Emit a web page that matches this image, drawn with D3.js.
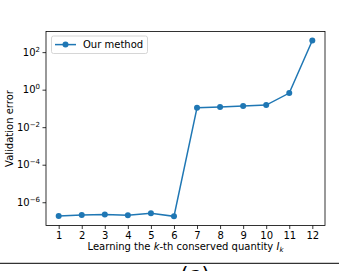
<!DOCTYPE html>
<html><head><meta charset="utf-8">
<script src="https://cdn.jsdelivr.net/npm/d3@7"></script>
<style>body{margin:0;background:#fff}svg{display:block}text{font-family:"DejaVu Sans",sans-serif;fill:#000}</style>
</head><body>
<svg id="c" width="364" height="271"></svg>
<script>
const categories = [1,2,3,4,5,6,7,8,9,10,11,12];
const errors = [1.85e-7,2.1e-7,2.2e-7,2.0e-7,2.6e-7,1.78e-7,0.11,0.119,0.135,0.15,0.66,420];
const yTicks = [-6,-4,-2,0,2];
const seriesName = "Our method";
const xLabel = "Learning the ";
const yLabel = "Validation error";

const svg = d3.select("#c");
const L=46,R=325,T=31.5,B=225.5;
const x = d3.scaleLinear().domain([0.45,12.55]).range([L,R]);
const y = d3.scaleLog().domain([Math.pow(10,-7.24),Math.pow(10,3.1)]).range([B,T]);
const color="#1f77b4";

// x axis
const xa = svg.append("g").attr("transform",`translate(0,${B})`)
  .call(d3.axisBottom(x).tickValues(categories).tickSize(3.5).tickPadding(2.5).tickFormat(d3.format("d")));
xa.select(".domain").remove();
xa.selectAll("text").attr("font-size",10).attr("font-family","DejaVu Sans");
xa.selectAll("line").attr("stroke","#000").attr("stroke-width",0.8);

// y axis
const ya = svg.append("g").attr("transform",`translate(${L},0)`)
  .call(d3.axisLeft(y).tickValues(yTicks.map(e=>Math.pow(10,e))).tickSize(3.5).tickPadding(2.5).tickFormat(()=>""));
ya.select(".domain").remove();
ya.selectAll("line").attr("stroke","#000").attr("stroke-width",0.8);
ya.selectAll(".tick text").each(function(d){
  const t=d3.select(this).attr("font-size",10).attr("font-family","DejaVu Sans");
  const e=Math.round(Math.log10(d));
  t.append("tspan").text("10");
  t.append("tspan").attr("dy",-4).attr("font-size",7).text(e<0?"\u2212"+(-e):String(e));
});

// frame
svg.append("rect").attr("x",L).attr("y",T).attr("width",R-L).attr("height",B-T)
  .attr("fill","none").attr("stroke","#000").attr("stroke-width",0.8);

// line + markers
const data = categories.map((c,i)=>({c,v:errors[i]}));
svg.append("path").datum(data).attr("fill","none").attr("stroke",color).attr("stroke-width",1.5)
  .attr("d",d3.line().x(d=>x(d.c)).y(d=>y(d.v)));
svg.selectAll("circle.pt").data(data).join("circle").attr("class","pt")
  .attr("cx",d=>x(d.c)).attr("cy",d=>y(d.v)).attr("r",3).attr("fill",color);

// legend
const lg = svg.append("g");
lg.append("rect").attr("x",51.5).attr("y",36).attr("width",96).attr("height",17.5).attr("rx",2)
  .attr("fill","#fff").attr("stroke","#ccc").attr("stroke-width",0.8);
lg.append("line").attr("x1",55).attr("x2",76).attr("y1",44.6).attr("y2",44.6).attr("stroke",color).attr("stroke-width",1.5);
lg.append("circle").attr("cx",65.5).attr("cy",44.6).attr("r",3).attr("fill",color);
lg.append("text").attr("x",83).attr("y",48.2).attr("font-size",10).text(seriesName);

// axis labels
const xl = svg.append("text").attr("x",(L+R)/2).attr("y",249.5).attr("text-anchor","middle").attr("font-size",10);
xl.append("tspan").text(xLabel);
xl.append("tspan").attr("font-style","italic").text("k");
xl.append("tspan").text("-th conserved quantity ");
xl.append("tspan").attr("font-style","italic").text("I");
xl.append("tspan").attr("font-style","italic").attr("font-size",7).attr("dy",2).text("k");

svg.append("text").attr("transform",`translate(13,${(T+B)/2}) rotate(-90)`).attr("text-anchor","middle")
  .attr("font-size",10).text(yLabel);

// separator and caption
svg.append("line").attr("x1",0).attr("x2",339).attr("y1",263.3).attr("y2",263.3).attr("stroke","#000").attr("stroke-width",1);
const cap = svg.append("text").attr("x",195).attr("y",282).attr("text-anchor","middle").attr("font-size",21)
  .attr("font-family","DejaVu Serif");
cap.append("tspan").text("(");
cap.append("tspan").attr("font-style","italic").text("a");
cap.append("tspan").text(")");
</script>
</body></html>
